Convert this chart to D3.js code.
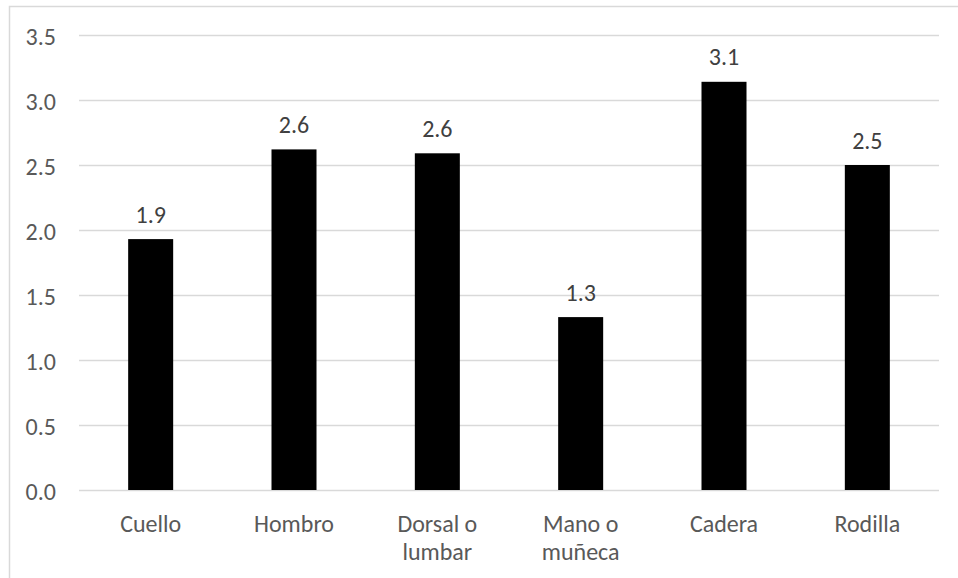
<!DOCTYPE html>
<html>
<head>
<meta charset="utf-8">
<script src="https://cdn.jsdelivr.net/npm/d3@7"></script>
<style>
  html, body { margin: 0; padding: 0; background: #fff; }
  svg { display: block; }
  text { font-family: Carlito, Calibri, Lato, "Open Sans", sans-serif; }
</style>
</head>
<body>
<svg id="chart" width="958" height="578"></svg>
<script>
const categories = ["Cuello", "Hombro", "Dorsal o lumbar", "Mano o muñeca", "Cadera", "Rodilla"];
const categoryLines = [["Cuello"], ["Hombro"], ["Dorsal o", "lumbar"], ["Mano o", "muñeca"], ["Cadera"], ["Rodilla"]];
const values = [1.93, 2.62, 2.59, 1.33, 3.14, 2.50];
const yTicks = [0, 0.5, 1.0, 1.5, 2.0, 2.5, 3.0, 3.5];

(function () {
const svg = d3.select("#chart");
const W = 958, H = 578;
const mLeft = 79, mRight = 939, mTop = 35, mBottom = 490;
const fontSize = 24;

// outer chart border
svg.append("rect")
  .attr("x", 9.5).attr("y", 6.5)
  .attr("width", W + 10).attr("height", H + 10)
  .attr("fill", "none").attr("stroke", "#d9d9d9").attr("stroke-width", 1.5);

const x = d3.scaleBand()
  .domain(categories)
  .range([mLeft, mRight])
  .paddingInner(0.686)
  .paddingOuter(0.343);

const y = d3.scaleLinear().domain([0, 3.5]).range([mBottom, mTop]);

// y axis with gridlines
const yAxis = d3.axisLeft(y)
  .tickValues(yTicks)
  .tickFormat(d3.format(".1f"))
  .tickSize(-(mRight - mLeft))
  .tickPadding(23);

const gy = svg.append("g")
  .attr("transform", `translate(${mLeft},0)`)
  .call(yAxis);
gy.select(".domain").remove();
gy.selectAll(".tick line").attr("stroke", "#d9d9d9").attr("stroke-width", 1.5);
gy.selectAll(".tick text")
  .attr("fill", "#595959")
  .attr("dy", "0.39em")
  .style("font-size", fontSize + "px");

// bars
svg.append("g").selectAll("rect")
  .data(values)
  .join("rect")
  .attr("x", (d, i) => x(categories[i]))
  .attr("y", d => y(d))
  .attr("width", x.bandwidth())
  .attr("height", d => y(0) - y(d))
  .attr("fill", "#000");

// data labels
svg.append("g").selectAll("text")
  .data(values)
  .join("text")
  .attr("x", (d, i) => x(categories[i]) + x.bandwidth() / 2)
  .attr("y", d => y(d) - 16.5)
  .attr("text-anchor", "middle")
  .attr("fill", "#404040")
  .style("font-size", fontSize + "px")
  .text(d => d3.format(".1f")(d));

// x axis category labels
const xl = svg.append("g").selectAll("text")
  .data(categories)
  .join("text")
  .attr("x", d => x(d) + x.bandwidth() / 2)
  .attr("y", mBottom + 41.5)
  .attr("text-anchor", "middle")
  .attr("fill", "#595959")
  .style("font-size", fontSize + "px");
xl.each(function (d, i) {
  const t = d3.select(this);
  categoryLines[i].forEach((line, j) => {
    t.append("tspan")
      .attr("x", x(d) + x.bandwidth() / 2)
      .attr("dy", j === 0 ? 0 : 28)
      .text(line);
  });
});
})();
</script>
</body>
</html>
